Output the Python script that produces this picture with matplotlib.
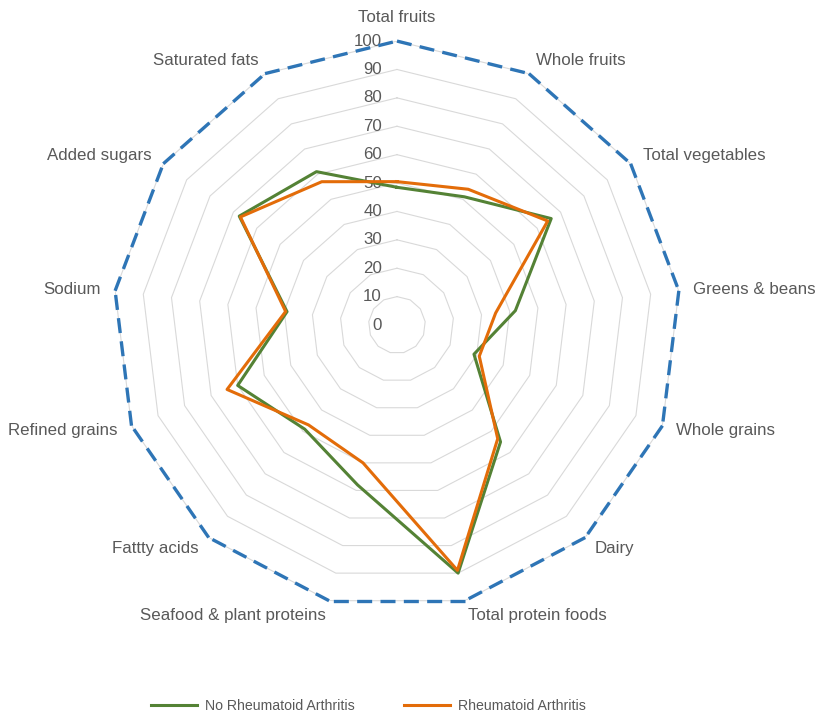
import numpy as np
import matplotlib
matplotlib.use("Agg")
import matplotlib.pyplot as plt

plt.rcParams['font.family'] = ['Liberation Sans', 'DejaVu Sans']

categories = ["Total fruits", "Whole fruits", "Total vegetables", "Greens & beans",
              "Whole grains", "Dairy", "Total protein foods", "Seafood & plant proteins",
              "Fattty acids", "Refined grains", "Sodium", "Added sugars", "Saturated fats"]
maximum = [100] * 13
no_ra = [48.5, 51, 66, 42, 29, 55, 90, 58, 49, 60, 39, 67.5, 61]
ra = [50.5, 54, 64.5, 35, 31, 53.5, 89, 50, 47, 64, 39.5, 67, 57]
ticks = list(range(0, 101, 10))

n = len(categories)
theta = np.arange(n) * 2 * np.pi / n
closed = np.append(theta, theta[0])

fig = plt.figure(figsize=(8.18, 7.17), dpi=100)
ax = fig.add_axes([0.1381, 0.1507, 0.6944, 0.792], projection='polar')
ax.set_theta_zero_location('N')
ax.set_theta_direction(-1)
ax.set_ylim(0, 100)
ax.grid(False)
ax.spines['polar'].set_visible(False)
ax.set_xticks([])
ax.set_yticks([])

# polygon gridlines + value labels
for t in ticks:
    ax.plot(closed, [t] * (n + 1), color='#D9D9D9', lw=0.8, zorder=1)
    ax.annotate(str(t), xy=(0, t), xytext=(-15, 0), textcoords='offset pixels',
                ha='right', va='center', fontsize=12.2, color='#595959', zorder=2)

# dashed max series, one segment per edge so the dash pattern restarts like excel
mx = maximum + maximum[:1]
for i in range(n):
    ax.plot(closed[i:i + 2], mx[i:i + 2], color='#2E75B6', lw=2.4, dashes=(4.5, 2.5),
            solid_capstyle='butt', clip_on=False, zorder=3)
l1, = ax.plot(closed, no_ra + no_ra[:1], color='#548235', lw=2.2, zorder=4,
              label='No Rheumatoid Arthritis')
l2, = ax.plot(closed, ra + ra[:1], color='#E36C09', lw=2.2, zorder=5,
              label='Rheumatoid Arthritis')

for ang, lab in zip(theta, categories):
    s = np.sin(ang)
    if abs(s) < 0.05:
        ax.text(ang, 105.5, lab, ha='center', va='bottom', fontsize=12.2, color='#595959')
        continue
    ha = 'left' if s > 0 else 'right'
    ax.text(ang, 105.2, lab, ha=ha, va='center', fontsize=12.2, color='#595959')

fig.legend(handles=[l1, l2], loc='center', bbox_to_anchor=(0.4505, 0.0153), ncol=2,
           frameon=False, fontsize=10.2, labelcolor='#595959', handlelength=3.25,
           columnspacing=3.45, handletextpad=0.56)

fig.savefig('out.png', dpi=100)
